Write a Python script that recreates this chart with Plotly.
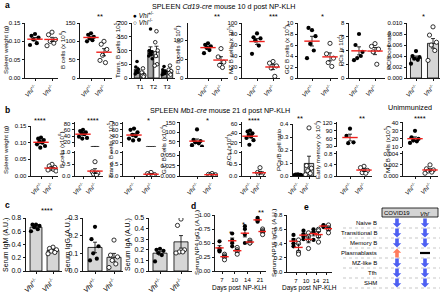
import numpy as np
import plotly.graph_objects as go

W, H = 440, 295
FONT = "Liberation Sans, Arial, Helvetica, sans-serif"
RED = "#f0201c"
BLUE = "#4d5ff2"
ORANGE = "#ff7b5c"
BAR_GRAY = "#d6d6d6"
BAR_DARK = "#a8a8a8"

# ---------------- tick labels / categories ----------------
geno_a = ["<i>Vhl</i><sup>+/-</sup>", "<i>Vhl</i><sup>-/-</sup>"]
geno_c = ["<i>Vhl</i><sup>+/-</sup>", "<i>Vhl</i><sup>-/-</sup>"]
trans_subsets = ["T1", "T2", "T3"]
days = ["7", "10", "14", "21"]

# ---------------- panel a: Cd19-cre, 10 d post NP-KLH ----------------
a_spleen_het = [0.120, 0.115, 0.110, 0.105, 0.095, 0.090]
a_spleen_ko = [0.125, 0.118, 0.105, 0.100, 0.095, 0.088]
a_bcell_het = [122, 118, 112, 108, 103, 100]
a_bcell_ko = [100, 92, 78, 62, 42, 48]
a_trans_het = [[60, 40, 32, 25, 20, 15], [178, 100, 95, 90, 85, 80, 70], [42, 30, 25, 20, 16, 12]]
a_trans_ko = [[35, 20, 10, 8, 5], [170, 130, 100, 80, 50, 45], [45, 30, 25, 18, 12]]
a_fo_het = [92, 88, 84, 80, 74, 66]
a_fo_ko = [78, 56, 42, 34, 28]
a_mz_het = [81, 74, 72, 68, 59, 44]
a_mz_ko = [30, 27, 22, 18, 3]
a_gc_het = [8.7, 9.1, 7.6, 6.2, 5.0, 3.6]
a_gc_ko = [6.3, 4.4, 3.6, 2.8, 2.1]
a_pc_het = [6.4, 4.8, 3.8, 2.9, 3.2, 2.6]
a_pc_ko = [5.0, 4.6, 4.2, 3.8, 2.0]
a_ratio_het = [0.0049, 0.0040, 0.0038, 0.0035, 0.0033, 0.0026]
a_ratio_ko = [0.0093, 0.0078, 0.0065, 0.0060, 0.0050, 0.0032]

# ---------------- panel b: Mb1-cre, 21 d post NP-KLH ----------------
b_spleen_het = [0.115, 0.112, 0.108, 0.104, 0.100, 0.095, 0.090, 0.085]
b_spleen_ko = [0.035, 0.030, 0.026, 0.022, 0.020, 0.018, 0.015]
b_bcell_het = [60, 56, 52, 50, 46, 38, 34, 32]
b_bcell_ko = [0.60, 0.18, 0.12, 0.08, 0.05]
b_trans_het = [64, 60, 52, 44, 40, 32, 28, 26]
b_trans_ko = [0.15, 0.10, 0.06, 0.04, 0.02]
b_gc_het = [115, 58, 52, 45, 40, 30, 22]
b_gc_ko = [0.006, 0.004, 0.003, 0.002, 0.001]
b_pc_het = [46, 44, 40, 37, 33, 30, 25, 15]
b_pc_ko = [0.35, 0.15, 0.10, 0.05, 0.03]
b_ratio_het = [0.012, 0.010, 0.009, 0.008, 0.007, 0.006, 0.005, 0.004]
b_ratio_ko = [0.37, 0.08, 0.06, 0.04, 0.02, 0.01]
b_mem_het = [98, 70, 45, 42]
b_mem_ko = [0.35, 0.30, 0.20, 0.12, 0.10]
b_mz_het = [30, 22, 20, 18, 17, 15]
b_mz_ko = [0.0020, 0.0013, 0.0011, 0.0009, 0.0007, 0.0005]

# ---------------- panel c: serum Ig ----------------
c_igm_het = [0.70, 0.70, 0.68, 0.66, 0.63, 0.60]
c_igm_ko = [0.36, 0.34, 0.32, 0.30, 0.28, 0.26]
c_igg_het = [0.25, 0.18, 0.14, 0.10, 0.07, 0.06]
c_igg_ko = [0.175, 0.09, 0.08, 0.06, 0.04, 0.02]
c_iga_het = [0.21, 0.20, 0.19, 0.17, 0.15, 0.09]
c_iga_ko = [0.49, 0.43, 0.20, 0.18, 0.18, 0.17]

# ---------------- panel d: NP-specific IgG1 over time ----------------
d_np4_het = [[0.53, 0.40, 0.37, 0.35], [0.67, 0.55, 0.50, 0.44], [0.80, 0.75, 0.65, 0.50], [0.95, 0.92, 0.90, 0.88]]
d_np4_ko = [[0.30, 0.27, 0.25, 0.20], [0.42, 0.38, 0.35, 0.30], [0.55, 0.52, 0.50, 0.50], [0.75, 0.72, 0.70, 0.65]]
d_np15_het = [[0.52, 0.45, 0.40, 0.36], [0.58, 0.53, 0.50, 0.46], [0.60, 0.56, 0.55, 0.45], [0.66, 0.65, 0.64, 0.63]]
d_np15_ko = [[0.45, 0.40, 0.28, 0.25], [0.55, 0.50, 0.45, 0.33], [0.60, 0.58, 0.50, 0.42], [0.66, 0.62, 0.60, 0.55]]

# ---------------- panel e: summary table ----------------
e_rows = ["Naive B", "Transitional B", "Memory B", "Plasmablasts", "MZ-like B", "Tfh", "SHM"]
e_covid = ["down", "down", "down", "up", "down", "down", "down"]
e_vhl = ["down", "down", "down", "none", "down", "down", "down"]

# =====================================================================
fig = go.Figure()
count = [0]
OFFS_PX = [0, -3.5, 3.5, -1.8, 1.8, -5.0, 5.0, -0.9, 0.9]
TICK_FS = 6.0


def sem(v):
    v = np.asarray(v, float)
    return float(v.std(ddof=1) / np.sqrt(len(v)))


def px(x, y):
    return x / W, 1 - y / H


def cat_range(x0, x1, first, step, n):
    return [-(first - x0) / step, (n - 1) + (x1 - (first + (n - 1) * step)) / step]


def new_axes(x0, x1, y0, y1, xr, yr, yticks, yfmt, xticks=None, xticktext=None,
             xline=True, fs=TICK_FS, xangle=-45):
    count[0] += 1
    n = count[0]
    s = "" if n == 1 else str(n)
    base = dict(showgrid=False, zeroline=False, fixedrange=True, linecolor="black",
                linewidth=0.9, tickcolor="black", tickwidth=0.9, ticklen=2.5,
                tickfont=dict(size=fs, family=FONT, color="black"), automargin=False)
    xa = dict(base, domain=[x0 / W, x1 / W], range=xr, anchor="y" + s, showline=xline)
    if xline and xticks is not None:
        xa.update(tickmode="array", tickvals=xticks, ticktext=xticktext, ticks="outside",
                  tickangle=xangle, showticklabels=True)
    else:
        xa.update(ticks="", showticklabels=False)
    ya = dict(base, domain=[1 - y1 / H, 1 - y0 / H], range=yr, anchor="x" + s, showline=True,
              ticks="outside", tickmode="array", tickvals=yticks,
              ticktext=[yfmt.format(v) for v in yticks])
    fig.update_layout(**{"xaxis" + s: xa, "yaxis" + s: ya})
    return "x" + s, "y" + s


def add_points(xa, ya, vals, pos, filled, s, spread=1.0, size=4.2):
    xs = [pos + OFFS_PX[i % len(OFFS_PX)] * spread / s for i in range(len(vals))]
    if filled:
        marker = dict(size=size, color="black", line=dict(width=0))
    else:
        marker = dict(size=size, color="white", line=dict(color="black", width=0.8))
    fig.add_trace(go.Scatter(x=xs, y=vals, mode="markers", marker=marker, xaxis=xa, yaxis=ya,
                             hoverinfo="skip", showlegend=False))


def add_mean(xa, ya, groups, positions, width_px=11):
    fig.add_trace(go.Scatter(
        x=list(positions), y=[float(np.mean(g)) for g in groups], mode="markers",
        marker=dict(symbol="line-ew", size=width_px, color=RED, line=dict(color=RED, width=1.4)),
        error_y=dict(type="data", array=[sem(g) for g in groups], color="black", thickness=0.8, width=2),
        xaxis=xa, yaxis=ya, hoverinfo="skip", showlegend=False))


def add_bars(xa, ya, groups, positions, colors, width):
    fig.add_trace(go.Bar(
        x=list(positions), y=[float(np.mean(g)) for g in groups], width=width,
        marker=dict(color=colors, line=dict(color="black", width=0.8)),
        error_y=dict(type="data", array=[sem(g) for g in groups], color="black", thickness=0.8, width=2),
        xaxis=xa, yaxis=ya, hoverinfo="skip", showlegend=False))


def dot_panel(xa, ya, het, ko, s, spread=1.0, mean_w=11):
    add_points(xa, ya, het, 0, True, s, spread)
    add_points(xa, ya, ko, 1, False, s, spread)
    add_mean(xa, ya, [het, ko], [0, 1], mean_w)


def bar_panel(xa, ya, het, ko, s, width, spread=1.0):
    add_bars(xa, ya, [het, ko], [0, 1], [BAR_GRAY, BAR_GRAY], width)
    add_points(xa, ya, het, 0, True, s, spread)
    add_points(xa, ya, ko, 1, False, s, spread)


def text(x, y, s, size=6.5, xanchor="center", yanchor="middle", angle=0):
    X, Y = px(x, y)
    fig.add_annotation(x=X, y=Y, xref="paper", yref="paper", text=s, showarrow=False,
                       font=dict(size=size, family=FONT, color="black"), xanchor=xanchor,
                       yanchor=yanchor, textangle=angle, borderpad=0)


def ytitle(x, y, s, size=6.2):
    text(x, y, s, size=size, angle=-90)


# ============================ ROW a ============================
AT, AB = 23, 78
# a1 spleen weight
x0, x1, c0, step = 25, 58, 35, 17
xa, ya = new_axes(x0, x1, AT, AB, cat_range(x0, x1, c0, step, 2), [0, 0.15], [0, 0.05, 0.10, 0.15], "{:.2f}", [0, 1], geno_a)
dot_panel(xa, ya, a_spleen_het, a_spleen_ko, step)
ytitle(5, 50, "Spleen weight (g)")
# a2 B cells
x0, x1, c0, step = 80, 112, 91, 13
xa, ya = new_axes(x0, x1, AT, AB, cat_range(x0, x1, c0, step, 2), [0, 150], [0, 50, 100, 150], "{:.0f}", [0, 1], geno_a)
dot_panel(xa, ya, a_bcell_het, a_bcell_ko, step, 0.8)
ytitle(62, 50, "B cells (x 10<sup>6</sup>)")
# a3 transitional B
x0, x1, c0, step = 132, 175, 140, 13.5
xa, ya = new_axes(x0, x1, AT, AB, cat_range(x0, x1, c0, step, 3), [0, 200], [0, 50, 100, 150, 200], "{:.0f}",
                  [0, 1, 2], trans_subsets, xangle=0)
dd = 0.22
pos_het = [i - dd for i in range(3)]
pos_ko = [i + dd for i in range(3)]
add_bars(xa, ya, a_trans_het + a_trans_ko, pos_het + pos_ko, [BAR_DARK] * 3 + ["white"] * 3, 0.4)
for i in range(3):
    add_points(xa, ya, a_trans_het[i], pos_het[i], True, step, 0.35, 3.6)
    add_points(xa, ya, a_trans_ko[i], pos_ko[i], False, step, 0.35, 3.6)
ytitle(117, 50, "Trans. B cells (x 10<sup>5</sup>)")
text(132, 15, "● <i>Vhl</i><sup>+/-</sup>", 6.5, xanchor="left")
text(132, 22, "○ <i>Vhl</i><sup>-/-</sup>", 6.5, xanchor="left")
# a4 FO
x0, x1, c0, step = 188, 228, 208, 13
xa, ya = new_axes(x0, x1, AT, AB, cat_range(x0, x1, c0, step, 2), [0, 146], [0, 50, 100], "{:.0f}", [0, 1], geno_a)
dot_panel(xa, ya, a_fo_het, a_fo_ko, step, 0.8)
ytitle(177, 50, "FO B cells (x 10<sup>6</sup>)")
# a5 MZ
x0, x1, c0, step = 242, 280, 257, 16
xa, ya = new_axes(x0, x1, AT, AB, cat_range(x0, x1, c0, step, 2), [0, 100], [0, 20, 40, 60, 80, 100], "{:.0f}", [0, 1], geno_a)
dot_panel(xa, ya, a_mz_het, a_mz_ko, step)
ytitle(230, 50, "MZ B cells (x 10<sup>5</sup>)")
# a6 GC
x0, x1, c0, step = 298, 338, 312, 18
xa, ya = new_axes(x0, x1, AT, AB, cat_range(x0, x1, c0, step, 2), [0, 10], [0, 2, 4, 6, 8, 10], "{:.0f}", [0, 1], geno_a)
dot_panel(xa, ya, a_gc_het, a_gc_ko, step)
ytitle(286, 50, "GC B cells (x 10<sup>4</sup>)")
# a7 PCs
x0, x1, c0, step = 349, 385, 359, 16
xa, ya = new_axes(x0, x1, AT, AB, cat_range(x0, x1, c0, step, 2), [0, 8], [0, 2, 4, 6, 8], "{:.0f}", [0, 1], geno_a)
dot_panel(xa, ya, a_pc_het, a_pc_ko, step)
ytitle(340, 50, "PCs (x 10<sup>4</sup>)")
# a8 PC/B ratio
x0, x1, c0, step = 407, 440, 416, 17
xa, ya = new_axes(x0, x1, AT, AB, cat_range(x0, x1, c0, step, 2), [0, 0.010], [0, 0.002, 0.004, 0.006, 0.008, 0.010], "{:.3f}", [0, 1], geno_a)
bar_panel(xa, ya, a_ratio_het, a_ratio_ko, step, 0.65)
ytitle(388, 50, "PC/B cell ratio")

text(4, 5, "<b>a</b>", 8.5, xanchor="left")
text(223, 7, "SPLEEN <i>Cd19-cre</i> mouse 10 d post NP-KLH", 7.2)
for (x, y, s) in [(100, 17, "**"), (217, 17, "**"), (273, 17, "***"), (322, 17, "*"), (423, 17, "*")]:
    text(x, y, s, 7.5)

# ============================ ROW b ============================
UP = (122, 147)
LO = (151, 176)


def broken_panel(x0, x1, c0, step, up_range, up_ticks, up_fmt, lo_range, lo_ticks, lo_fmt, het, ko, spread=1.0):
    xr = cat_range(x0, x1, c0, step, 2)
    xu, yu = new_axes(x0, x1, UP[0], UP[1], xr, up_range, up_ticks, up_fmt, xline=False)
    xl, yl = new_axes(x0, x1, LO[0], LO[1], xr, lo_range, lo_ticks, lo_fmt, [0, 1], geno_a)
    for xa_, ya_ in ((xu, yu), (xl, yl)):
        dot_panel(xa_, ya_, het, ko, step, spread)


# b1 spleen
x0, x1, c0, step = 31, 58, 41, 11
xa, ya = new_axes(x0, x1, 126, 176, cat_range(x0, x1, c0, step, 2), [0, 0.15], [0, 0.05, 0.10, 0.15], "{:.2f}", [0, 1], geno_a)
dot_panel(xa, ya, b_spleen_het, b_spleen_ko, step, 0.8)
ytitle(5, 150, "Spleen weight (g)")
# b2 B cells
broken_panel(75, 103, 83, 12, [5, 85], [20, 40, 60, 80], "{:.0f}", [0, 1.05], [0, 0.5, 1.0], "{:.1f}",
             b_bcell_het, b_bcell_ko, 0.8)
ytitle(61, 150, "B cells (x10<sup>6</sup>)")
# b3 Trans
broken_panel(123, 160, 134, 17, [5, 85], [20, 40, 60, 80], "{:.0f}", [0, 1.05], [0, 0.5, 1.0], "{:.1f}",
             b_trans_het, b_trans_ko)
ytitle(110, 150, "Trans. B cells (x 10<sup>5</sup>)")
# b4 GC
broken_panel(180, 218, 197, 15, [20, 155], [50, 100, 150], "{:.0f}", [0, 0.06], [0, 0.025, 0.050], "{:.3f}",
             b_gc_het, b_gc_ko)
ytitle(163, 150, "G.C B cells (x10<sup>4</sup>)")
# b5 PCs
broken_panel(242, 266, 250, 10, [10, 65], [20, 40, 60], "{:.0f}", [0, 1.05], [0, 0.5, 1.0], "{:.1f}",
             b_pc_het, b_pc_ko, 0.7)
ytitle(228, 150, "P.Cs (x10<sup>4</sup>)")
# b6 PC/B ratio
x0, x1, c0, step = 293, 316, 298, 11
xa, ya = new_axes(x0, x1, 124, 176, cat_range(x0, x1, c0, step, 2), [0, 0.4], [0, 0.1, 0.2, 0.3, 0.4], "{:.1f}", [0, 1], geno_a)
bar_panel(xa, ya, b_ratio_het, b_ratio_ko, step, 0.85, 0.7)
ytitle(278, 150, "PCs/B cell ratio")
# b7 early memory
broken_panel(337, 372, 350, 14, [27, 124], [30, 60, 90, 120], "{:.0f}", [0, 0.9], [0, 0.4, 0.8], "{:.1f}",
             b_mem_het, b_mem_ko)
ytitle(317, 150, "Early memory (x 10<sup>4</sup>)")
# b8 MZ unimmunized
broken_panel(403, 438, 415, 15, [10, 41], [10, 20, 30, 40], "{:.0f}", [0, 0.0045], [0, 0.002, 0.004], "{:.3f}",
             b_mz_het, b_mz_ko)
ytitle(387, 150, "MZ B cells (x10<sup>5</sup>)")

text(4, 110, "<b>b</b>", 8.5, xanchor="left")
text(220, 110, "SPLEEN <i>Mb1-cre</i> mouse 21 d post NP-KLH", 7.2)
text(410, 107, "Unimmunized", 7.2)
for (x, y, s) in [(40, 120, "****"), (93, 120, "****"), (148, 120, "*"), (207, 120, "*"),
                  (254, 120, "****"), (300, 118, "**"), (362, 118, "**"), (420, 118, "****")]:
    text(x, y, s, 7.5)

# ============================ ROW c ============================
CT, CB = 218, 271
x0, x1, c0, step = 26, 62, 36, 17
xa, ya = new_axes(x0, x1, CT, CB, cat_range(x0, x1, c0, step, 2), [0, 0.8], [0, 0.2, 0.4, 0.6, 0.8], "{:.1f}", [0, 1], geno_c, fs=7)
bar_panel(xa, ya, c_igm_het, c_igm_ko, step, 0.7)
ytitle(6, 245, "Serum IgM (A.U.)", 7)
x0, x1, c0, step = 83, 123, 95, 19
xa, ya = new_axes(x0, x1, CT, CB, cat_range(x0, x1, c0, step, 2), [0, 0.3], [0, 0.1, 0.2, 0.3], "{:.1f}", [0, 1], geno_c, fs=7)
bar_panel(xa, ya, c_igg_het, c_igg_ko, step, 0.74)
ytitle(68, 245, "Serum IgG (A.U.)", 7)
x0, x1, c0, step = 149, 192, 160, 21
xa, ya = new_axes(x0, x1, CT, CB, cat_range(x0, x1, c0, step, 2), [0, 0.5], [0, 0.1, 0.2, 0.3, 0.4, 0.5], "{:.1f}", [0, 1], geno_c, fs=7)
bar_panel(xa, ya, c_iga_het, c_iga_ko, step, 0.67)
ytitle(128, 245, "Serum IgA (A.U.)", 7)
text(4, 205, "<b>c</b>", 8.5, xanchor="left")
text(47, 210, "****", 7.5)

# ============================ ROW d ============================


def time_panel(xa, ya, het_groups, ko_groups, step, dx=2.5):
    for groups, sign, filled in ((het_groups, -1, True), (ko_groups, 1, False)):
        xs, ys = [], []
        for i, g in enumerate(groups):
            xs += [i + sign * dx / step] * len(g)
            ys += g
        if filled:
            marker = dict(size=4.2, color="black")
        else:
            marker = dict(size=4.2, color="white", line=dict(color="black", width=0.8))
        fig.add_trace(go.Scatter(x=xs, y=ys, mode="markers", marker=marker, xaxis=xa, yaxis=ya,
                                 hoverinfo="skip", showlegend=False))
    for groups, sign in ((het_groups, -1), (ko_groups, 1)):
        add_mean(xa, ya, groups, [i + sign * dx / step for i in range(len(groups))], 6)


x0, x1, c0, step = 215, 266, 222, 12.7
xa, ya = new_axes(x0, x1, 215, 271, cat_range(x0, x1, c0, step, 4), [0, 1.0], [0, 0.25, 0.5, 0.75, 1.0], "{:.2f}",
                  [0, 1, 2, 3], days, xangle=0)
time_panel(xa, ya, d_np4_het, d_np4_ko, step)
ytitle(196, 243, "Serum NP4 IgG1 (A.U.)")
text(240, 288, "Days post NP-KLH", 6.5)
x0, x1, c0, step = 287, 332, 296, 10
xa, ya = new_axes(x0, x1, 215, 272, cat_range(x0, x1, c0, step, 4), [0, 0.8], [0, 0.2, 0.4, 0.6, 0.8], "{:.1f}",
                  [0, 1, 2, 3], days, xangle=0)
time_panel(xa, ya, d_np15_het, d_np15_ko, step)
ytitle(273, 243, "Serum NP15 IgG1 (A.U.)")
text(309, 288, "Days post NP-KLH", 6.5)
text(190, 206, "<b>d</b>", 8.5, xanchor="left")
for (x, y, s) in [(230, 233, "*"), (243, 224, "*"), (261, 212, "**")]:
    text(x, y, s, 7.5)

# ============================ panel e ============================
text(303, 207, "<b>e</b>", 8.5, xanchor="left")
X0, Y0 = px(382, 208)
X1, Y1 = px(438, 217)
fig.add_shape(type="rect", xref="paper", yref="paper", x0=X0, y0=Y1, x1=X1, y1=Y0,
              fillcolor="#d4d4d4", line=dict(color="black", width=0.8))
text(397, 212.5, "COVID19", 6)
text(425, 212.5, "<i>Vhl</i><sup>-</sup>", 6)
ROW0, ROWH = 223, 10
COLX = (397, 425)


def arrow_path(cx, cy, up):
    d = -1 if up else 1
    top = cy - 4.5 * d
    bot = cy + 4.5 * d
    mid = cy + 0.3 * d
    pts = [(cx - 1.8, top), (cx + 1.8, top), (cx + 1.8, mid), (cx + 4.2, mid), (cx, bot), (cx - 4.2, mid), (cx - 1.8, mid)]
    p = [px(a, b) for a, b in pts]
    return "M " + " L ".join(f"{a:.5f},{b:.5f}" for a, b in p) + " Z"


for i, label in enumerate(e_rows):
    cy = ROW0 + i * ROWH
    text(378, cy, label, 6, xanchor="right")
    a, b = px(343, cy + 5)
    c, _ = px(440, cy + 5)
    fig.add_shape(type="line", xref="paper", yref="paper", x0=a, y0=b, x1=c, y1=b,
                  line=dict(color="#b0b0b0", width=0.7, dash="dot"))
    for cx, state in zip(COLX, (e_covid[i], e_vhl[i])):
        if state == "none":
            p0 = px(cx - 5, cy - 1.1)
            p1 = px(cx + 5, cy + 1.1)
            fig.add_shape(type="rect", xref="paper", yref="paper", x0=p0[0], y0=p1[1], x1=p1[0], y1=p0[1],
                          fillcolor="black", line=dict(width=0))
        else:
            fig.add_shape(type="path", xref="paper", yref="paper", path=arrow_path(cx, cy, state == "up"),
                          fillcolor=ORANGE if state == "up" else BLUE, line=dict(width=0))

fig.update_layout(width=W, height=H, margin=dict(l=0, r=0, t=0, b=0), paper_bgcolor="white",
                  plot_bgcolor="white", showlegend=False, barmode="overlay",
                  font=dict(family=FONT, color="black"))
fig.write_html("out.html", config={"displayModeBar": False, "staticPlot": True},
               post_script="document.body.style.margin='0';document.body.style.overflow='hidden';")
